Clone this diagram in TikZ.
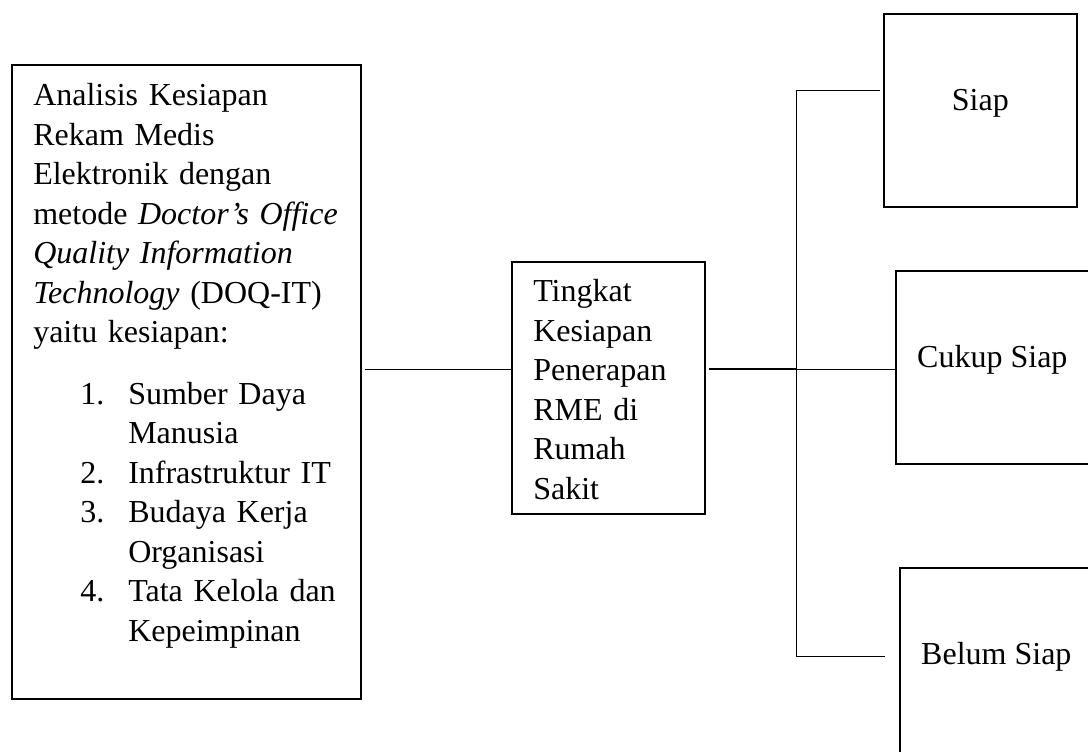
\documentclass[tikz,border=0pt]{standalone}
\usepackage{fontspec}
\setmainfont{Liberation Serif}
\usepackage{tikz}
\usetikzlibrary{positioning}

\begin{document}
\begin{tikzpicture}[x=0.75pt, y=-0.75pt,
        kotak/.style={draw, line width=1.5pt, inner sep=0pt, anchor=north west},
        teks/.style={inner sep=0pt, anchor=base west, align=left, font=\fontsize{24}{29.6}\selectfont},
        hasil/.style={kotak, minimum width=144.5pt, minimum height=144.5pt, text height=7pt, text depth=7pt, font=\fontsize{24}{29.6}\selectfont},
        garis/.style={line width=0.75pt}]
        \path[use as bounding box, fill=white] (0,0) rectangle (1088,752);

        \node[kotak, minimum width=261.75pt, minimum height=475.5pt] (analisis) at (11,64) {};
        \node[teks, text width=235pt] (teksanalisis) at (33,106) {Analisis Kesiapan\\
          Rekam Medis\\
          Elektronik dengan\\
          metode \textit{Doctor's Office}\\
          \textit{Quality Information}\\
          \textit{Technology} (DOQ-IT)\\
          yaitu kesiapan:\\[16.5pt]
          \hspace*{35.25pt}\makebox[36pt][l]{1.}Sumber Daya\\
          \hspace*{71.25pt}Manusia\\
          \hspace*{35.25pt}\makebox[36pt][l]{2.}Infrastruktur IT\\
          \hspace*{35.25pt}\makebox[36pt][l]{3.}Budaya Kerja\\
          \hspace*{71.25pt}Organisasi\\
          \hspace*{35.25pt}\makebox[36pt][l]{4.}Tata Kelola dan\\
          \hspace*{71.25pt}Kepeimpinan};
        \node[kotak, minimum width=144.75pt, minimum height=189pt] (tingkat) at (511,261) {};
        \node[teks, text width=130pt] (tekstingkat) at (533,301.7) {Tingkat\\
          Kesiapan\\
          Penerapan\\
          RME di\\
          Rumah\\
          Sakit};
        \node[hasil] (siap)  at (883,13)  {Siap};
        \node[hasil] (cukup) at (895,270) {Cukup Siap};
        \node[hasil] (belum) at (899,567) {Belum Siap};

        \coordinate (cabang) at (796,369);
        \coordinate (atas)   at (796,91);
        \coordinate (bawah)  at (796,656);

        \draw[garis, shorten <=2.25pt] (analisis.east |- cabang) -- (tingkat.west |- cabang);
        \draw[garis, line width=1.3pt, shorten <=2.25pt] (tingkat.east |- cabang) -- (cabang);
        \draw[garis] (atas) -- (bawah);
        \draw[garis, shorten >=2.25pt] (atas) -- (siap.west |- atas);
        \draw[garis] (cabang) -- (cukup.west |- cabang);
        \draw[garis, shorten >=10.5pt] (bawah) -- (belum.west |- bawah);
      \end{tikzpicture}
\end{document}
